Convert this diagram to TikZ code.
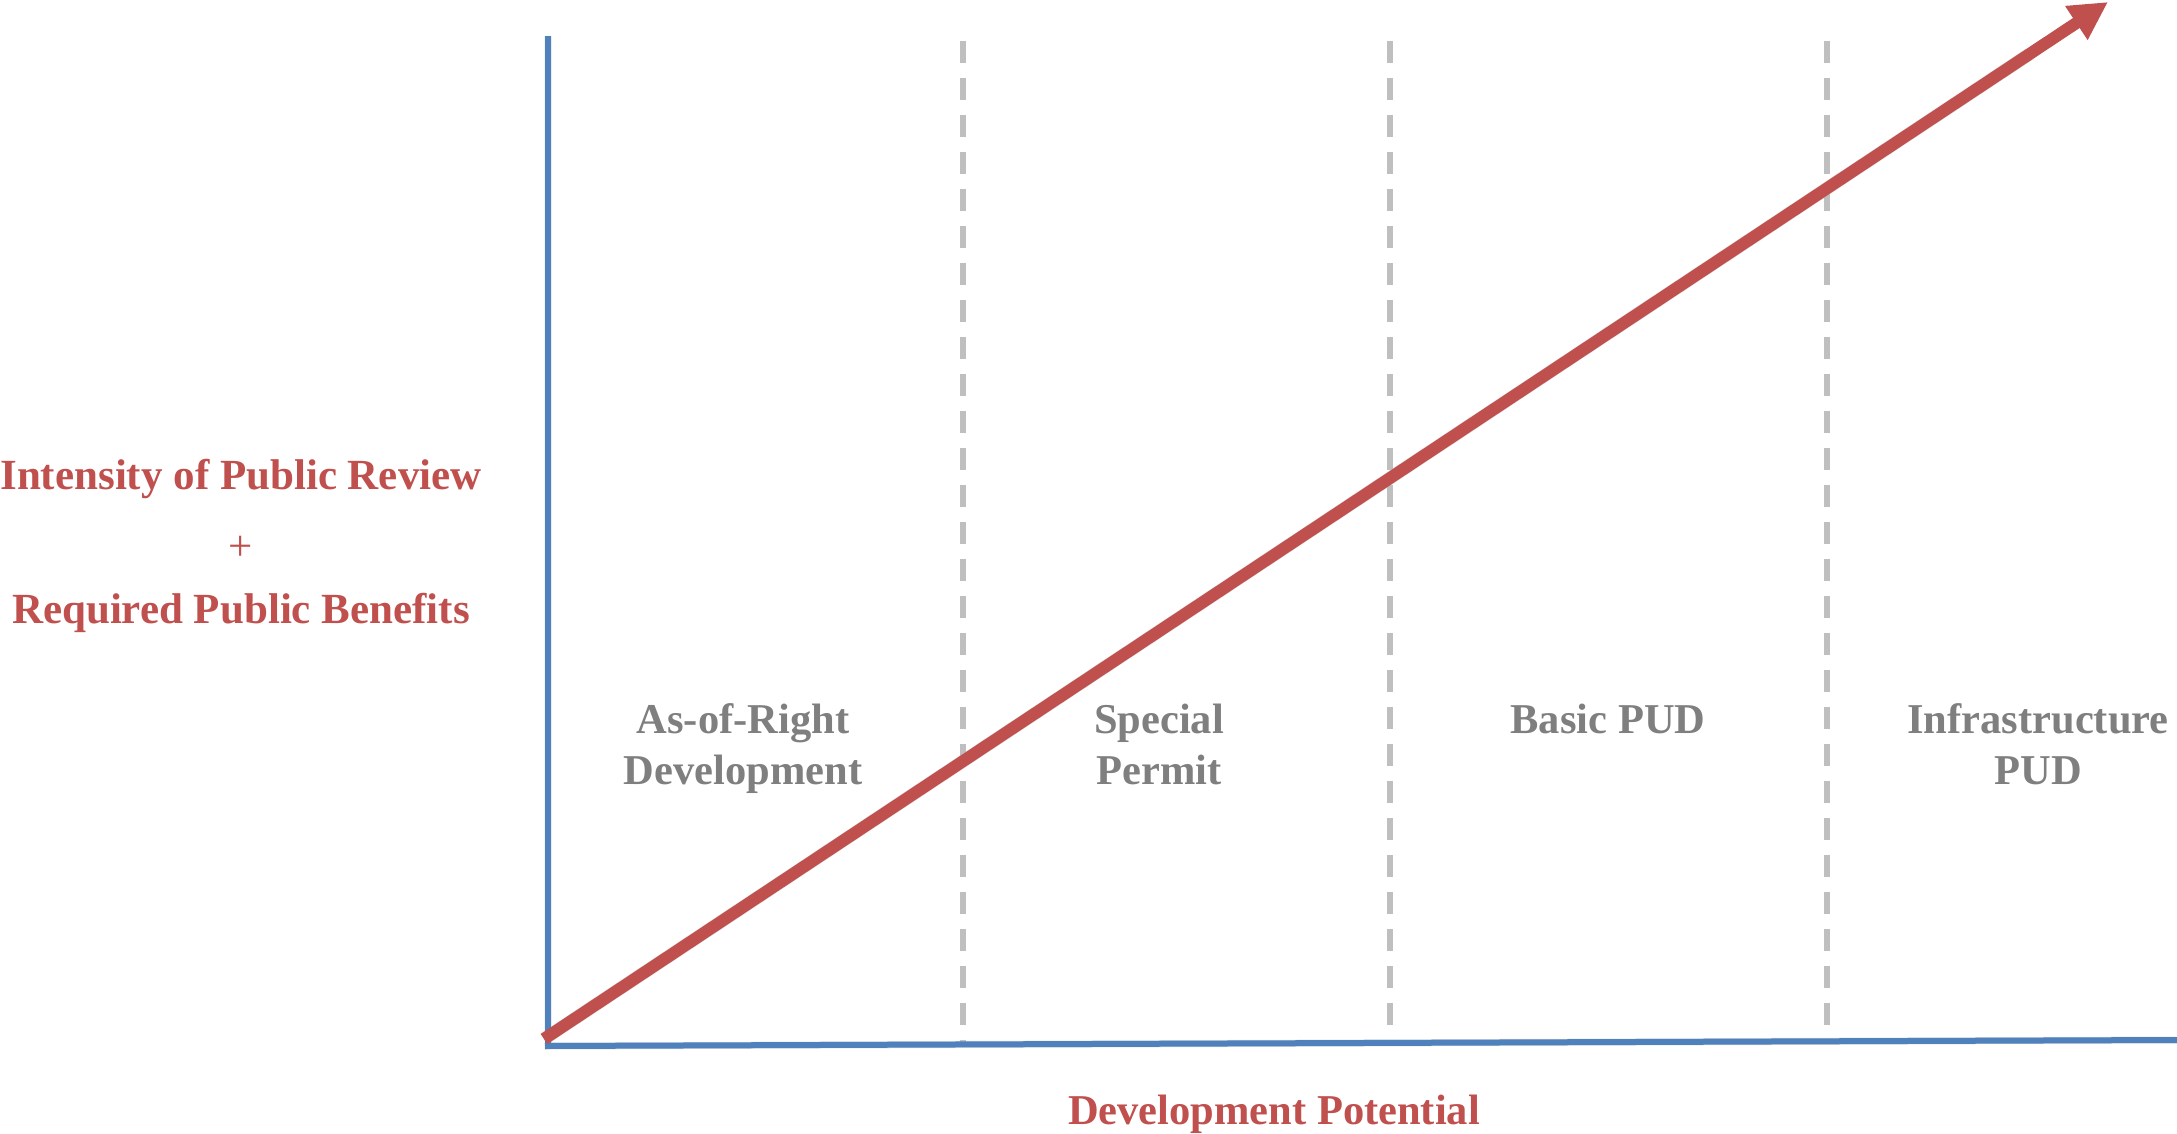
\documentclass[tikz,border=0pt]{standalone}
\usepackage{fontspec}
\setmainfont{Liberation Serif}
\usetikzlibrary{arrows.meta,calc}
\definecolor{axisblue}{HTML}{4F81BD}
\definecolor{arrred}{HTML}{C0504D}
\definecolor{lblgray}{HTML}{7F7F7F}
\definecolor{dashgray}{HTML}{BFBFBF}
\begin{document}
\begin{tikzpicture}[x=1pt,y=-1pt,
  axisline/.style={draw=axisblue,line width=6pt},
  divider/.style={draw=dashgray,line width=5.5pt,dash pattern=on 22pt off 15pt},
  shadowline/.style={draw=black,opacity=0.12,line width=7pt},
  redlabel/.style={text=arrred,font=\fontsize{43}{50}\selectfont\bfseries,inner sep=0pt,anchor=base},
  graylabel/.style={text=lblgray,font=\fontsize{42.5}{48}\selectfont\bfseries,inner sep=0pt,anchor=base},
  growth/.style={draw=arrred,line width=12pt,-{Triangle[length=38pt,width=38pt]}}]
\useasboundingbox (0,0) rectangle (2177,1134);
% coordinates
\coordinate (ytop) at (548,36);
\coordinate (origin) at (548,1046);
\coordinate (xend) at (2177,1040);
\coordinate (d1t) at (963,41);  \coordinate (d1b) at (963,1045);
\coordinate (d2t) at (1390,41); \coordinate (d2b) at (1390,1043);
\coordinate (d3t) at (1827,41); \coordinate (d3b) at (1827,1041);
\coordinate (rstart) at (544,1039);
\coordinate (rtip) at (2108,2);
% shadows
\begin{scope}[shift={(2,4)}]
\draw[shadowline] (ytop) -- (origin) -- (xend);
\draw[shadowline,line width=13pt] (rstart) -- ($(rtip)!0.05!(rstart)$);
\end{scope}
% dividers
\draw[divider] (d1t) -- (d1b);
\draw[divider] (d2t) -- (d2b);
\draw[divider] (d3t) -- (d3b);
% axes
\draw[axisline] (ytop) -- (origin);
\draw[axisline] ([xshift=-3pt]origin) -- (xend);
% arrow
\draw[growth] (rstart) -- (rtip);
% labels
\node[redlabel] (yl1) at (241,489) {Intensity of Public Review};
\node[redlabel,font=\fontsize{43}{50}\selectfont] (yl2) at (241,560) {+};
\node[redlabel] (yl3) at (241,623) {Required Public Benefits};
\node[redlabel,font=\fontsize{42.5}{48}\selectfont\bfseries] (xl) at (1274,1124) {Development Potential};
\node[graylabel] (a1) at (743,733) {As-of-Right};
\node[graylabel] (a2) at (743,784) {Development};
\node[graylabel] (b1) at (1159,733) {Special};
\node[graylabel] (b2) at (1159,784) {Permit};
\node[graylabel] (c1) at (1608,733) {Basic PUD};
\node[graylabel] (e1) at (2038,733) {Infrastructure};
\node[graylabel] (e2) at (2038,784) {PUD};
\end{tikzpicture}
\end{document}
